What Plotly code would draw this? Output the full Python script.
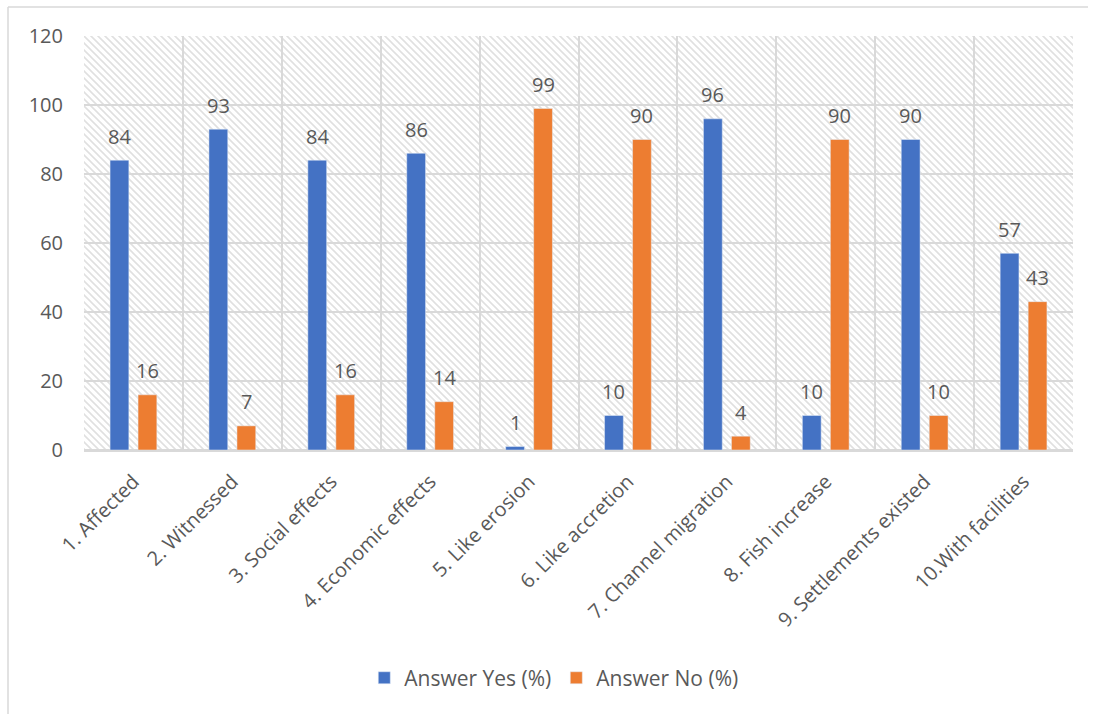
import base64
import plotly.graph_objects as go

# Survey items and answer shares (%)
categories = [
    "1. Affected", "2. Witnessed", "3. Social effects", "4. Economic effects",
    "5. Like erosion", "6. Like accretion", "7. Channel migration",
    "8. Fish increase", "9. Settlements existed", "10.With facilities",
]
answer_yes = [84, 93, 84, 86, 1, 10, 96, 10, 90, 57]
answer_no = [16, 7, 16, 14, 99, 90, 4, 90, 10, 43]
y_ticks = [0, 20, 40, 60, 80, 100, 120]

BLUE = "#4472C4"
ORANGE = "#ED7D31"
TEXT = "#595959"
GRID = "#d9d9d9"
FONT = "Open Sans, Noto Sans, sans-serif"

BAR_W = 0.19
SHIFT = 0.1415
xs = list(range(len(categories)))

fig = go.Figure()
fig.add_trace(go.Bar(
    x=xs, y=answer_yes, name="Answer Yes (%)", marker_color=BLUE,
    width=BAR_W, offset=-SHIFT - BAR_W / 2,
))
fig.add_trace(go.Bar(
    x=xs, y=answer_no, name="Answer No (%)", marker_color=ORANGE,
    width=BAR_W, offset=SHIFT - BAR_W / 2,
))

# value labels above each bar
annotations = []
for i, (yv, nv) in enumerate(zip(answer_yes, answer_no)):
    for dx, v in ((-SHIFT, yv), (SHIFT, nv)):
        annotations.append(dict(
            x=i + dx, y=v, xref="x", yref="y", text=str(v), showarrow=False,
            yanchor="middle", yshift=24, font=dict(size=20, color=TEXT, family=FONT),
        ))

# diagonal hatch fill for the plot area
PW, PH = 989, 414
svg = f"""<svg xmlns='http://www.w3.org/2000/svg' width='{PW}' height='{PH}'>
<defs><pattern id='h' patternUnits='userSpaceOnUse' width='7' height='7'>
<path d='M-1,6 L1,8 M0,0 L7,7 M6,-1 L8,1' stroke='#e0e0e0' stroke-width='1.6'/>
</pattern></defs>
<rect width='{PW}' height='{PH}' fill='white'/>
<rect width='{PW}' height='{PH}' fill='url(#h)'/>
</svg>"""
hatch_src = "data:image/svg+xml;base64," + base64.b64encode(svg.encode()).decode()

fig.update_layout(
    width=1096, height=714,
    margin=dict(l=84, r=23, t=36, b=264),
    paper_bgcolor="white", plot_bgcolor="white",
    font=dict(family=FONT, size=20, color=TEXT),
    barmode="overlay",
    showlegend=True,
    legend=dict(
        orientation="h", x=0.475, xanchor="center", y=-0.551, yanchor="middle",
        font=dict(size=21, color=TEXT), itemwidth=30,
    ),
    annotations=annotations,
    images=[dict(
        source=hatch_src, xref="paper", yref="paper", x=0, y=1,
        sizex=1, sizey=1, xanchor="left", yanchor="top",
        sizing="stretch", layer="below",
    )],
    shapes=[
        dict(type="line", xref="paper", yref="paper",
             x0=(8 - 84) / PW, x1=(1088 - 84) / PW, y0=(450 - 7) / PH, y1=(450 - 7) / PH,
             line=dict(color=GRID, width=1.5)),
        dict(type="line", xref="paper", yref="paper",
             x0=(8 - 84) / PW, x1=(8 - 84) / PW, y0=(450 - 7) / PH, y1=-0.7,
             line=dict(color=GRID, width=1.5)),
    ],
)

fig.update_xaxes(
    range=[-0.5, len(categories) - 0.5],
    tickmode="array", tickvals=xs, ticktext=categories, tickangle=-45,
    showgrid=False, zeroline=False, ticks="", ticklabelstandoff=10,
    showline=True, linecolor=GRID, linewidth=2,
    minor=dict(tickvals=[i - 0.5 for i in range(len(categories) + 1)],
               showgrid=True, gridcolor=GRID, gridwidth=1.5, ticks=""),
    tickfont=dict(size=20, color=TEXT),
)
fig.update_yaxes(
    range=[0, 120], tickmode="array", tickvals=y_ticks,
    showgrid=True, gridcolor=GRID, gridwidth=1.5,
    zeroline=True, zerolinecolor=GRID, zerolinewidth=2,
    ticks="", ticklabelstandoff=20,
    tickfont=dict(size=20, color=TEXT),
)

fig.write_html("out.html")
